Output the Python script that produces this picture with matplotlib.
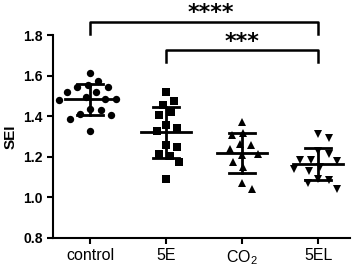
import matplotlib
matplotlib.use("Agg")
import matplotlib.pyplot as plt
import numpy as np

plt.rcParams['font.family'] = ['Liberation Sans', 'DejaVu Sans']
plt.rcParams['mathtext.default'] = 'regular'

categories = ["control", "5E", "CO$_2$", "5EL"]
markers = ["o", "s", "^", "v"]

control = [1.613, 1.575, 1.546, 1.546, 1.556, 1.518, 1.518, 1.485, 1.480,
           1.485, 1.493, 1.430, 1.412, 1.436, 1.387, 1.406, 1.326]
e5 = [1.518, 1.457, 1.477, 1.419, 1.407, 1.341, 1.358, 1.325, 1.247,
      1.256, 1.202, 1.215, 1.174, 1.089]
co2 = [1.370, 1.264, 1.316, 1.310, 1.215, 1.240, 1.256, 1.207, 1.174,
       1.149, 1.039, 1.070]
e5l = [1.313, 1.294, 1.215, 1.228, 1.185, 1.177, 1.185, 1.141, 1.129,
       1.149, 1.084, 1.092, 1.043, 1.070]
groups = [control, e5, co2, e5l]

# significance comparisons: (group a, group b, label, level)
comparisons = [(0, 3, "****", 1.865), (1, 3, "***", 1.726)]

fig = plt.figure(figsize=(3.58, 2.68), dpi=100)
ax = fig.add_axes([0.148, 0.112, 0.83, 0.757])
ax.set_xlim(-0.487, 3.42)
ax.set_ylim(0.8, 1.8)


def swarm_offsets(vals, ax, d=11.0):
    """Beeswarm offsets (in data x units) computed in display pixels."""
    trans = ax.transData
    pts = trans.transform(np.column_stack([np.zeros(len(vals)), vals]))
    ypix = pts[:, 1]
    x0 = trans.transform([[0, 0]])[0, 0]
    x1 = trans.transform([[1, 0]])[0, 0]
    ppu = x1 - x0
    order = np.argsort(-np.asarray(vals))
    placed = []
    offs = np.zeros(len(vals))
    for idx in order:
        y = ypix[idx]
        best = None
        for step in range(0, 200):
            for cand in ([0.0] if step == 0 else [step * 0.5, -step * 0.5]):
                ok = all((cand - px) ** 2 + (y - py) ** 2 >= d * d
                         for px, py in placed)
                if ok:
                    best = cand
                    break
            if best is not None:
                break
        placed.append((best, y))
        offs[idx] = best / ppu
    return offs


for i, (vals, m) in enumerate(zip(groups, markers)):
    offs = swarm_offsets(vals, ax)
    ax.plot(i + offs, vals, linestyle="none", marker=m, color="black",
            markersize=5.3, markeredgewidth=0, zorder=3)
    mean = np.mean(vals)
    sd = np.std(vals, ddof=1)
    ax.plot([i - 0.33, i + 0.33], [mean, mean], color="black", lw=2, zorder=5)
    ax.plot([i, i], [mean - sd, mean + sd], color="black", lw=2, zorder=5)
    for y in (mean - sd, mean + sd):
        ax.plot([i - 0.17, i + 0.17], [y, y], color="black", lw=2, zorder=5)

for k, (a, b, lab, lev) in enumerate(comparisons):
    drop = 0.058
    ax.plot([a, a, b, b], [lev - drop, lev, lev, lev - drop], color="black",
            lw=1.8, clip_on=False)
    xc = (a + b) / 2 + (0.09 if k == 0 else 0.0)
    ax.text(xc, lev + 0.012, lab, ha="center", va="baseline",
            fontsize=16, fontweight="bold", family="DejaVu Sans",
            clip_on=False)

ax.set_yticks([0.8, 1.0, 1.2, 1.4, 1.6, 1.8])
ax.set_yticklabels(["0.8", "1.0", "1.2", "1.4", "1.6", "1.8"],
                   fontweight="bold", fontsize=10)
ax.set_xticks(range(4))
ax.set_xticklabels(categories, fontsize=11.5)
ax.set_ylabel("SEI", fontweight="bold", fontsize=11, labelpad=4)
for s in ("top", "right"):
    ax.spines[s].set_visible(False)
for s in ("left", "bottom"):
    ax.spines[s].set_linewidth(1.5)
ax.tick_params(width=1.5, length=4, direction="out")

fig.savefig("out.png", dpi=100)
